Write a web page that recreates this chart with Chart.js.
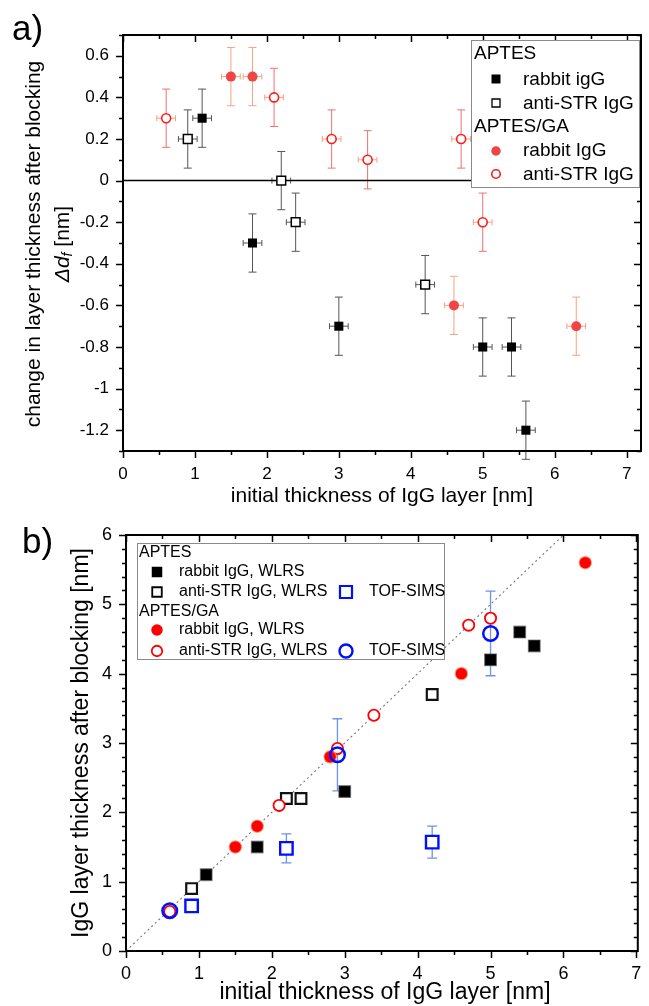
<!DOCTYPE html>
<html>
<head>
<meta charset="utf-8">
<title>IgG layer thickness before and after blocking</title>
<script src="https://cdn.jsdelivr.net/npm/chart.js@4.4.0/dist/chart.umd.min.js"></script>
<style>
  html, body { margin: 0; padding: 0; background: #fff; }
  #wrap { position: relative; width: 649px; height: 1006px; overflow: hidden; background: #fff; }
  #topCanvas { position: absolute; left: 0; top: 0; width: 649px; height: 510px; }
  #botCanvas { position: absolute; left: 0; top: 510px; width: 649px; height: 496px; }
</style>
</head>
<body>
<div id="wrap">
  <canvas id="topCanvas" width="649" height="510"></canvas>
  <canvas id="botCanvas" width="649" height="496"></canvas>
</div>
<script>
// ---------- panel a): change in thickness after blocking ----------
const topXTicks = [0, 1, 2, 3, 4, 5, 6, 7];
const topXTickLabels = ['0', '1', '2', '3', '4', '5', '6', '7'];
const topYTicks = [-1.2, -1, -0.8, -0.6, -0.4, -0.2, 0, 0.2, 0.4, 0.6];
const topYTickLabels = ['-1.2', '-1', '-0.8', '-0.6', '-0.4', '-0.2', '0', '0.2', '0.4', '0.6'];

// APTES, rabbit IgG
const aptesRabbitX = [1.1, 1.8, 3.0, 5.0, 5.4, 5.6];
const aptesRabbitDelta = [0.3, -0.3, -0.7, -0.8, -0.8, -1.2];
const aptesRabbitXErr = [0.13, 0.13, 0.13, 0.13, 0.13, 0.13];
const aptesRabbitDeltaErr = [0.14, 0.14, 0.14, 0.14, 0.14, 0.14];
// APTES, anti-STR IgG
const aptesAntiX = [0.9, 2.2, 2.4, 4.2];
const aptesAntiDelta = [0.2, 0.0, -0.2, -0.5];
const aptesAntiXErr = [0.13, 0.13, 0.13, 0.13];
const aptesAntiDeltaErr = [0.14, 0.14, 0.14, 0.14];
// APTES/GA, rabbit IgG
const gaRabbitX = [1.5, 1.8, 4.6, 6.3];
const gaRabbitDelta = [0.5, 0.5, -0.6, -0.7];
const gaRabbitXErr = [0.13, 0.13, 0.13, 0.13];
const gaRabbitDeltaErr = [0.14, 0.14, 0.14, 0.14];
// APTES/GA, anti-STR IgG
const gaAntiX = [0.6, 2.1, 2.9, 3.4, 4.7, 5.0];
const gaAntiDelta = [0.3, 0.4, 0.2, 0.1, 0.2, -0.2];
const gaAntiXErr = [0.13, 0.13, 0.13, 0.13, 0.13, 0.13];
const gaAntiDeltaErr = [0.14, 0.14, 0.14, 0.14, 0.14, 0.14];
// zero reference line
const zeroLineX = [0, 7.2];
const zeroLineY = [0, 0];

// ---------- panel b): thickness after blocking ----------
const botXTicks = [0, 1, 2, 3, 4, 5, 6, 7];
const botXTickLabels = ['0', '1', '2', '3', '4', '5', '6', '7'];
const botYTicks = [0, 1, 2, 3, 4, 5, 6];
const botYTickLabels = ['0', '1', '2', '3', '4', '5', '6'];

const wlrsAptesRabbitX = [1.1, 1.8, 3.0, 5.0, 5.4, 5.6];
const wlrsAptesRabbitY = [1.1, 1.5, 2.3, 4.2, 4.6, 4.4];
const wlrsAptesAntiX = [0.9, 2.2, 2.4, 4.2];
const wlrsAptesAntiY = [0.9, 2.2, 2.2, 3.7];
const tofAptesX = [0.9, 2.2, 4.2];
const tofAptesY = [0.65, 1.48, 1.57];
const tofAptesErr = [0, 0.21, 0.23];
const wlrsGaRabbitX = [1.5, 1.8, 2.8, 4.6, 6.3];
const wlrsGaRabbitY = [1.5, 1.8, 2.8, 4.0, 5.6];
const wlrsGaAntiX = [0.6, 2.1, 2.9, 3.4, 4.7, 5.0];
const wlrsGaAntiY = [0.57, 2.1, 2.92, 3.4, 4.7, 4.8];
const tofGaX = [0.6, 2.9, 5.0];
const tofGaY = [0.58, 2.83, 4.58];
const tofGaErr = [0, 0.52, 0.61];
// y = x guide
const identityX = [0, 6];
const identityY = [0, 6];

const FONT = "'Liberation Sans', Arial, Helvetica, sans-serif";
Chart.defaults.font.family = FONT;
Chart.defaults.color = '#000';

function pts(xs, ys) { return xs.map((x, i) => ({ x: x, y: ys[i] })); }

// Error bars are drawn beneath the markers of each dataset.
const errorBars = {
  id: 'errorBars',
  beforeDatasetsDraw(chart) {
    const ctx = chart.ctx, xs = chart.scales.x, ys = chart.scales.y;
    chart.data.datasets.forEach(ds => {
      if (!ds.errX && !ds.errY) return;
      ds.data.forEach((p, j) => {
        const px = xs.getPixelForValue(p.x), py = ys.getPixelForValue(p.y);
        ctx.save();
        ctx.lineWidth = ds.errWidth || 1;
        if (ds.errY && ds.errY[j] > 0) {
          const c = ds.capY || 4;
          const y1 = ys.getPixelForValue(p.y + ds.errY[j]);
          const y2 = ys.getPixelForValue(p.y - ds.errY[j]);
          ctx.strokeStyle = ds.errColorY;
          ctx.beginPath();
          ctx.moveTo(px, y1); ctx.lineTo(px, y2);
          ctx.moveTo(px - c, y1); ctx.lineTo(px + c, y1);
          ctx.moveTo(px - c, y2); ctx.lineTo(px + c, y2);
          ctx.stroke();
        }
        if (ds.errX && ds.errX[j] > 0) {
          const c = ds.capX || 3;
          const x1 = xs.getPixelForValue(p.x - ds.errX[j]);
          const x2 = xs.getPixelForValue(p.x + ds.errX[j]);
          ctx.strokeStyle = ds.errColorX;
          ctx.beginPath();
          ctx.moveTo(x1, py); ctx.lineTo(x2, py);
          ctx.moveTo(x1, py - c); ctx.lineTo(x1, py + c);
          ctx.moveTo(x2, py - c); ctx.lineTo(x2, py + c);
          ctx.stroke();
        }
        ctx.restore();
      });
    });
  }
};

// Box frame with outward ticks on left/bottom and inward ticks on top/right.
function makeFrame(xMajor, xMinorStep, yMajor, yMinorStep) {
  return {
    id: 'frame',
    afterDatasetsDraw(chart) {
      const ctx = chart.ctx, xs = chart.scales.x, ys = chart.scales.y;
      const a = chart.chartArea;
      ctx.save();
      ctx.strokeStyle = '#000';
      ctx.lineWidth = 1.5;
      const big = 7, small = 4;
      const xMinor = [], yMinor = [];
      for (let v = xs.min; v <= xs.max + 1e-9; v += xMinorStep) xMinor.push(v);
      for (let v = ys.min; v <= ys.max + 1e-9; v += yMinorStep) yMinor.push(v);
      ctx.beginPath();
      xMinor.forEach(v => {
        const isMajor = xMajor.some(m => Math.abs(m - v) < 1e-6);
        const len = isMajor ? big : small;
        const px = Math.round(xs.getPixelForValue(v)) + 0.5;
        ctx.moveTo(px, a.bottom); ctx.lineTo(px, a.bottom + len);
        ctx.moveTo(px, a.top); ctx.lineTo(px, a.top + len);
      });
      yMinor.forEach(v => {
        const isMajor = yMajor.some(m => Math.abs(m - v) < 1e-6);
        const len = isMajor ? big : small;
        const py = Math.round(ys.getPixelForValue(v)) + 0.5;
        ctx.moveTo(a.left - len, py); ctx.lineTo(a.left, py);
        ctx.moveTo(a.right - len, py); ctx.lineTo(a.right, py);
      });
      ctx.stroke();
      ctx.lineWidth = 2;
      ctx.strokeRect(a.left, a.top, a.right - a.left, a.bottom - a.top);
      ctx.restore();
    }
  };
}

function drawMark(ctx, kind, x, y, size, color, filled, lw) {
  ctx.save();
  ctx.beginPath();
  if (kind === 'rect') ctx.rect(x - size / 2, y - size / 2, size, size);
  else ctx.arc(x, y, size / 2, 0, Math.PI * 2);
  if (filled) { ctx.fillStyle = color; ctx.fill(); }
  else { ctx.fillStyle = '#fff'; ctx.fill(); ctx.lineWidth = lw; ctx.strokeStyle = color; ctx.stroke(); }
  ctx.restore();
}

// Rotated text made of runs (used for the axis title with the subscript).
function drawRotatedRuns(ctx, cx, cy, runs) {
  ctx.save();
  ctx.translate(cx, cy);
  ctx.rotate(-Math.PI / 2);
  ctx.textBaseline = 'middle';
  ctx.textAlign = 'left';
  ctx.fillStyle = '#000';
  let total = 0;
  runs.forEach(r => { ctx.font = r.font; total += ctx.measureText(r.text).width; });
  let x = -total / 2;
  runs.forEach(r => {
    ctx.font = r.font;
    ctx.fillText(r.text, x, r.dy || 0);
    x += ctx.measureText(r.text).width;
  });
  ctx.restore();
}

function scaleOpts(min, max, ticks, labels, size, pad, fit, isX) {
  return {
    type: 'linear', min: min, max: max,
    afterBuildTicks: s => { s.ticks = ticks.map(v => ({ value: v })); },
    ticks: {
      callback: v => labels[ticks.indexOf(v)],
      font: { size: size, family: FONT }, color: '#000', padding: pad,
      autoSkip: false, maxRotation: 0, minRotation: 0
    },
    grid: { display: false, drawTicks: false },
    border: { display: false },
    afterFit: s => {
      if (isX) { s.height = fit; s.paddingLeft = 0; s.paddingRight = 0; }
      else { s.width = fit; s.paddingTop = 0; s.paddingBottom = 0; }
    }
  };
}

// ================= panel a) =================
const topDecor = {
  id: 'topDecor',
  afterDraw(chart) {
    const ctx = chart.ctx;
    ctx.save();
    ctx.fillStyle = '#000';
    ctx.textBaseline = 'alphabetic';
    ctx.textAlign = 'left';
    ctx.font = '35px ' + FONT;
    ctx.fillText('a)', 12, 40);

    // axis titles
    ctx.textAlign = 'center';
    ctx.textBaseline = 'middle';
    ctx.font = '21px ' + FONT;
    ctx.fillText('initial thickness of IgG layer [nm]', 382, 496);
    ctx.restore();
    drawRotatedRuns(ctx, 34, 244, [{ text: 'change in layer thickness after blocking', font: '21px ' + FONT }]);
    drawRotatedRuns(ctx, 63, 244, [
      { text: 'Δd', font: 'italic 21px ' + FONT },
      { text: 'f', font: 'italic 14px ' + FONT, dy: 5 },
      { text: ' [nm]', font: '21px ' + FONT }
    ]);

    // legend
    ctx.save();
    ctx.fillStyle = '#fff';
    ctx.fillRect(471, 40, 169, 148);
    ctx.strokeStyle = '#8a8a8a';
    ctx.lineWidth = 1;
    ctx.strokeRect(471.5, 40.5, 168, 147);
    ctx.fillStyle = '#000';
    ctx.font = '19px ' + FONT;
    ctx.textAlign = 'left';
    ctx.textBaseline = 'middle';
    ctx.fillText('APTES', 474, 54);
    ctx.fillText('rabbit igG', 523, 80);
    ctx.fillText('anti-STR IgG', 523, 104);
    ctx.fillText('APTES/GA', 474, 127);
    ctx.fillText('rabbit IgG', 523, 151);
    ctx.fillText('anti-STR IgG', 523, 175);
    drawMark(ctx, 'rect', 496, 79, 9, '#000', true);
    drawMark(ctx, 'rect', 496, 103, 8, '#000', false, 1.3);
    drawMark(ctx, 'circle', 496, 151, 9.5, '#f04545', true);
    drawMark(ctx, 'circle', 496, 174, 8.5, '#ff1a1a', false, 1.6);
    ctx.restore();
  }
};

new Chart(document.getElementById('topCanvas'), {
  type: 'scatter',
  data: {
    datasets: [
      { label: 'APTES rabbit igG', data: pts(aptesRabbitX, aptesRabbitDelta),
        pointStyle: 'rect', pointRadius: 6.4, backgroundColor: '#000', borderColor: '#000', borderWidth: 0,
        errX: aptesRabbitXErr, errY: aptesRabbitDeltaErr, errColorX: '#555', errColorY: '#555', capY: 4, capX: 3, order: 2 },
      { label: 'APTES anti-STR IgG', data: pts(aptesAntiX, aptesAntiDelta),
        pointStyle: 'rect', pointRadius: 6.2, backgroundColor: '#fff', borderColor: '#000', borderWidth: 1.5,
        errX: aptesAntiXErr, errY: aptesAntiDeltaErr, errColorX: '#555', errColorY: '#555', capY: 4, capX: 3, order: 2 },
      { label: 'APTES/GA rabbit IgG', data: pts(gaRabbitX, gaRabbitDelta),
        pointStyle: 'circle', pointRadius: 5, backgroundColor: '#f04545', borderColor: '#f04545', borderWidth: 0,
        errX: gaRabbitXErr, errY: gaRabbitDeltaErr, errColorX: '#f4a383', errColorY: '#f4a383', capY: 4, capX: 3, order: 1 },
      { label: 'APTES/GA anti-STR IgG', data: pts(gaAntiX, gaAntiDelta),
        pointStyle: 'circle', pointRadius: 4.5, backgroundColor: '#fff', borderColor: '#ff1a1a', borderWidth: 1.6,
        errX: gaAntiXErr, errY: gaAntiDeltaErr, errColorX: '#f4a383', errColorY: '#ef7070', capY: 4, capX: 3, order: 1 },
      { type: 'line', label: 'zero', data: pts(zeroLineX, zeroLineY), showLine: true,
        borderColor: '#000', borderWidth: 1.5, pointRadius: 0, fill: false, order: 10 }
    ]
  },
  options: {
    responsive: false, animation: false, events: [],
    layout: { padding: { left: 0, top: 35, right: 8, bottom: 0 } },
    plugins: { legend: { display: false }, tooltip: { enabled: false } },
    scales: {
      x: scaleOpts(0, 7.2, topXTicks, topXTickLabels, 17, 13, 59, true),
      y: scaleOpts(-1.3, 0.7, topYTicks, topYTickLabels, 17, 14, 123, false)
    }
  },
  plugins: [errorBars, makeFrame(topXTicks, 0.5, topYTicks, 0.1), topDecor]
});

// ================= panel b) =================
const botDecor = {
  id: 'botDecor',
  afterDraw(chart) {
    const ctx = chart.ctx;
    ctx.save();
    ctx.fillStyle = '#000';
    ctx.textAlign = 'left';
    ctx.textBaseline = 'alphabetic';
    ctx.font = '35px ' + FONT;
    ctx.fillText('b)', 22, 43);
    ctx.textAlign = 'center';
    ctx.textBaseline = 'middle';
    ctx.font = '23px ' + FONT;
    ctx.fillText('initial thickness of IgG layer [nm]', 385, 483);
    ctx.restore();
    drawRotatedRuns(ctx, 82, 233, [{ text: 'IgG layer thickness after blocking [nm]', font: '23px ' + FONT }]);

    // legend
    ctx.save();
    ctx.fillStyle = '#fff';
    ctx.fillRect(137, 33, 308, 117);
    ctx.strokeStyle = '#8a8a8a';
    ctx.lineWidth = 1;
    ctx.strokeRect(137.5, 33.5, 307, 116);
    ctx.fillStyle = '#000';
    ctx.font = '16px ' + FONT;
    ctx.textAlign = 'left';
    ctx.textBaseline = 'middle';
    ctx.fillText('APTES', 139, 43);
    ctx.fillText('rabbit IgG, WLRS', 179, 62);
    ctx.fillText('anti-STR IgG, WLRS', 179, 82);
    ctx.fillText('TOF-SIMS', 369, 82);
    ctx.fillText('APTES/GA', 139, 102);
    ctx.fillText('rabbit IgG, WLRS', 179, 120);
    ctx.fillText('anti-STR IgG, WLRS', 179, 141);
    ctx.fillText('TOF-SIMS', 369, 141);
    drawMark(ctx, 'rect', 157, 62, 10.5, '#000', true);
    drawMark(ctx, 'rect', 157, 82, 9.5, '#000', false, 1.8);
    drawMark(ctx, 'rect', 346, 82, 12, '#0010ff', false, 2.2);
    drawMark(ctx, 'circle', 157, 120, 11.5, '#ff0000', true);
    drawMark(ctx, 'circle', 157, 141, 10.5, '#ff0000', false, 1.8);
    drawMark(ctx, 'circle', 346, 141, 13, '#0010ff', false, 2.4);
    ctx.restore();
  }
};

new Chart(document.getElementById('botCanvas'), {
  type: 'scatter',
  data: {
    datasets: [
      { label: 'APTES/GA TOF-SIMS', data: pts(tofGaX, tofGaY),
        pointStyle: 'circle', pointRadius: 7.3, backgroundColor: 'rgba(255,255,255,0)', borderColor: '#0010ff', borderWidth: 2.5,
        errY: tofGaErr, errColorY: '#6d93ea', capY: 5, errWidth: 1.3, order: 1 },
      { label: 'APTES TOF-SIMS', data: pts(tofAptesX, tofAptesY),
        pointStyle: 'rect', pointRadius: 8.8, backgroundColor: '#fff', borderColor: '#0010ff', borderWidth: 2.4,
        errY: tofAptesErr, errColorY: '#6d93ea', capY: 5, errWidth: 1.3, order: 1 },
      { label: 'APTES/GA anti-STR IgG, WLRS', data: pts(wlrsGaAntiX, wlrsGaAntiY),
        pointStyle: 'circle', pointRadius: 5.6, backgroundColor: '#fff', borderColor: '#ff0000', borderWidth: 1.8, order: 3 },
      { label: 'APTES/GA rabbit IgG, WLRS', data: pts(wlrsGaRabbitX, wlrsGaRabbitY),
        pointStyle: 'circle', pointRadius: 6.2, backgroundColor: '#ff0000', borderColor: 'rgba(255,150,110,0.7)', borderWidth: 1.2, order: 2 },
      { label: 'APTES anti-STR IgG, WLRS', data: pts(wlrsAptesAntiX, wlrsAptesAntiY),
        pointStyle: 'rect', pointRadius: 7.6, backgroundColor: '#fff', borderColor: '#111', borderWidth: 2.2, order: 4 },
      { label: 'APTES rabbit IgG, WLRS', data: pts(wlrsAptesRabbitX, wlrsAptesRabbitY),
        pointStyle: 'rect', pointRadius: 8.3, backgroundColor: '#000', borderColor: 'rgba(90,90,90,0.6)', borderWidth: 1.2, order: 4 },
      { type: 'line', label: 'y = x', data: pts(identityX, identityY), showLine: true,
        borderColor: '#777', borderWidth: 1.1, borderDash: [2, 3], pointRadius: 0, fill: false, order: 10 }
    ]
  },
  options: {
    responsive: false, animation: false, events: [],
    layout: { padding: { left: 0, top: 25, right: 3, bottom: 0 } },
    plugins: { legend: { display: false }, tooltip: { enabled: false } },
    scales: {
      x: scaleOpts(0, 7.02, botXTicks, botXTickLabels, 18, 12, 55, true),
      y: scaleOpts(0, 6, botYTicks, botYTickLabels, 18, 14, 126, false)
    }
  },
  plugins: [errorBars, makeFrame(botXTicks, 0.5, botYTicks, 0.2), botDecor]
});
</script>
</body>
</html>
